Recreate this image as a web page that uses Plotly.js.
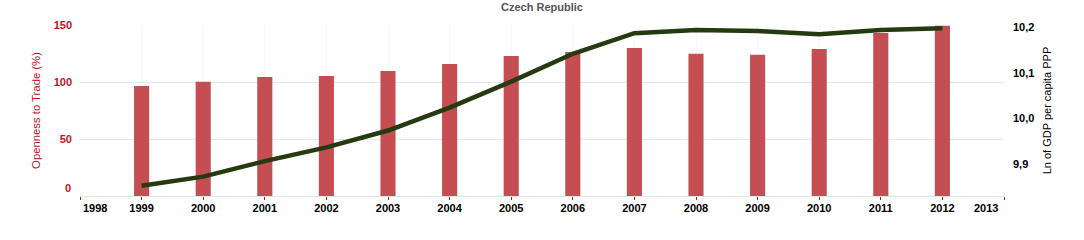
<!DOCTYPE html>
<html><head><meta charset="utf-8">
<script src="https://cdn.plot.ly/plotly-3.0.1.min.js"></script>
<style>html,body{margin:0;padding:0;background:#fff}#chart{width:1084px;height:240px}</style>
</head><body><div id="chart"></div>
<script>
const years = [1999,2000,2001,2002,2003,2004,2005,2006,2007,2008,2009,2010,2011,2012];
const openness = [96.5,100.3,104.4,105.3,109.6,115.8,122.8,126.3,129.8,124.8,124.0,129.0,143.0,149.4];
const lnGdp = [9.853,9.873,9.907,9.937,9.974,10.024,10.081,10.142,10.187,10.194,10.192,10.185,10.194,10.198];
const xTicks = [1998,1999,2000,2001,2002,2003,2004,2005,2006,2007,2008,2009,2010,2011,2012,2013];
const leftTicks = [50,100,150];
const rightTicks = [9.9,10.0,10.1,10.2];
const rightTickText = ['9,9','10,0','10,1','10,2'];

const FONT = 'Liberation Sans, Arial, sans-serif';
const RED = '#c0111f';
const first = xTicks[0], last = xTicks[xTicks.length-1];

const traces = [
  {type:'bar', x:years, y:openness, width:0.245, marker:{color:'#c44e52'}, name:'Openness', hoverinfo:'x+y'},
  {type:'scatter', mode:'lines', x:years, y:lnGdp, yaxis:'y2', line:{color:'#253a10', width:4.5}, name:'Ln GDP'}
];

const layout = {
  width:1084, height:240,
  margin:{l:80, r:80, t:25, b:44},
  paper_bgcolor:'#fff', plot_bgcolor:'#fff',
  showlegend:false,
  font:{family:FONT, size:11, color:'#000'},
  title:{text:'<b>Czech Republic</b>', x:0.5, xanchor:'center', y:0.97, yanchor:'middle', yref:'container', font:{family:FONT, size:11, color:'#555'}},
  xaxis:{range:[first,last], tickvals:xTicks, ticktext:xTicks.map((t,i)=> (i===0||i===xTicks.length-1)?'':String(t)),
    showgrid:true, gridcolor:'#f6f6f6', gridwidth:1, zeroline:false,
    showline:true, linecolor:'#e6e6e6', linewidth:1,
    ticks:'outside', ticklen:3, tickcolor:RED, tickwidth:1, ticklabelstandoff:-1,
    tickfont:{family:FONT, size:11, color:'#000', weight:'bold'}},
  yaxis:{range:[0,150], tickvals:leftTicks, ticktext:leftTicks.map(String),
    showgrid:true, gridcolor:'#e8e8e8', zeroline:false, ticks:'', ticklabelstandoff:7,
    tickfont:{family:FONT, size:11, color:RED, weight:'bold'},
    title:{text:'Openness to Trade (%)', standoff:10, font:{family:FONT, size:11.3, color:RED}}},
  yaxis2:{overlaying:'y', side:'right', range:[9.8306,10.205], tickvals:rightTicks, ticktext:rightTickText,
    showgrid:false, zeroline:false, ticks:'', ticklabelstandoff:8,
    tickfont:{family:FONT, size:11, color:'#000', weight:'bold'},
    title:{text:'Ln of GDP per capita PPP', standoff:9, font:{family:FONT, size:11, color:'#000'}}},
  annotations:[
    {text:'<b>0</b>', xref:'paper', yref:'paper', x:-0.0076, y:0.047, xanchor:'right', yanchor:'middle', showarrow:false, font:{family:FONT, size:11, color:RED}},
    {text:'<b>'+first+'</b>', xref:'x', yref:'paper', x:first+0.02, y:-0.072, xanchor:'left', yanchor:'middle', showarrow:false, font:{family:FONT, size:11, color:'#000'}},
    {text:'<b>'+last+'</b>', xref:'x', yref:'paper', x:last-0.07, y:-0.072, xanchor:'right', yanchor:'middle', showarrow:false, font:{family:FONT, size:11, color:'#000'}}
  ]
};
Plotly.newPlot('chart', traces, layout, {displayModeBar:false, staticPlot:true});
</script></body></html>
